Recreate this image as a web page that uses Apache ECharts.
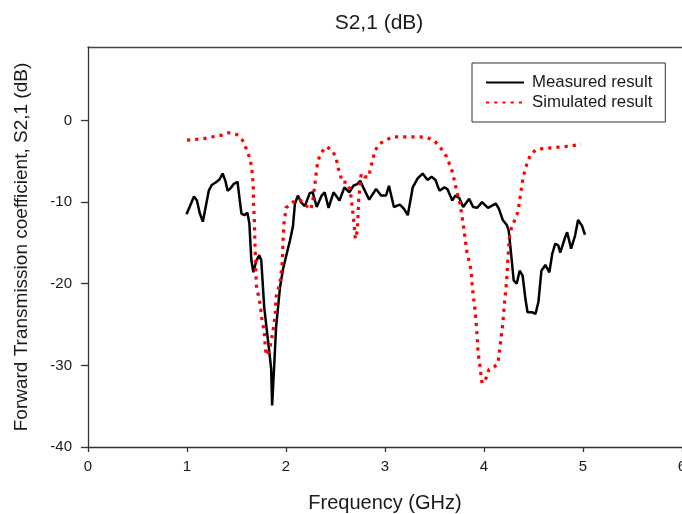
<!DOCTYPE html>
<html>
<head>
<meta charset="utf-8">
<script src="https://cdn.jsdelivr.net/npm/echarts@6/dist/echarts.min.js"></script>
<style>html,body{margin:0;padding:0;background:#fff}#c{width:682px;height:514px}</style>
</head>
<body>
<div id="c"></div>
<script>
const xTicks = [0, 1, 2, 3, 4, 5, 6];
const yTicks = [-40, -30, -20, -10, 0];

const measuredFreq = [0.995,1.04,1.07,1.10,1.13,1.16,1.19,1.22,1.25,1.29,1.33,1.36,1.39,1.41,1.44,1.47,1.51,1.53,1.55,1.58,1.61,1.63,1.65,1.67,1.70,1.73,1.75,1.78,1.83,1.85,1.86,1.88,1.90,1.94,1.97,2.00,2.04,2.07,2.09,2.12,2.15,2.19,2.24,2.27,2.31,2.36,2.39,2.43,2.48,2.54,2.59,2.64,2.68,2.72,2.75,2.78,2.84,2.91,2.96,3.01,3.04,3.09,3.15,3.19,3.23,3.28,3.30,3.33,3.38,3.43,3.47,3.51,3.55,3.60,3.63,3.68,3.71,3.75,3.79,3.85,3.89,3.93,3.98,4.04,4.12,4.15,4.19,4.23,4.25,4.28,4.30,4.33,4.36,4.39,4.42,4.44,4.49,4.52,4.55,4.58,4.62,4.66,4.69,4.72,4.75,4.77,4.82,4.84,4.88,4.92,4.95,4.99,5.02];
const measuredDb = [-11.5,-10.2,-9.3,-9.8,-11.4,-12.4,-10.5,-8.6,-7.9,-7.6,-7.2,-6.5,-7.5,-8.6,-8.3,-7.8,-7.5,-9.5,-11.4,-11.6,-11.3,-12.6,-17.1,-18.6,-17.2,-16.5,-17.1,-22.9,-28.2,-30.4,-34.9,-30.2,-25.3,-20.4,-18.2,-16.7,-14.7,-13.0,-10.2,-9.2,-10.0,-10.5,-8.9,-8.8,-10.6,-9.2,-8.8,-10.7,-8.8,-9.8,-8.2,-8.8,-8.0,-7.8,-7.4,-8.2,-9.7,-8.4,-9.2,-9.2,-8.0,-10.6,-10.3,-10.8,-11.6,-8.2,-8.0,-7.1,-6.5,-7.3,-6.9,-7.3,-8.6,-8.2,-8.4,-9.8,-9.2,-9.5,-10.6,-9.6,-10.6,-10.7,-10.0,-10.7,-10.2,-10.8,-12.2,-12.8,-13.5,-17.1,-19.6,-20.0,-18.4,-19.0,-22.0,-23.5,-23.5,-23.7,-22.2,-18.4,-17.7,-18.6,-16.3,-15.1,-15.3,-16.2,-14.3,-13.7,-15.7,-14.1,-12.2,-12.9,-14.0];

const simulatedFreq = [1.0,1.10,1.18,1.26,1.35,1.42,1.50,1.56,1.60,1.63,1.65,1.66,1.67,1.672,1.68,1.685,1.69,1.695,1.70,1.72,1.74,1.76,1.78,1.785,1.79,1.80,1.815,1.83,1.85,1.87,1.89,1.90,1.92,1.94,1.95,1.96,1.965,1.97,1.98,1.99,2.00,2.07,2.14,2.20,2.25,2.27,2.28,2.29,2.30,2.31,2.32,2.35,2.41,2.47,2.51,2.52,2.55,2.56,2.62,2.65,2.66,2.67,2.68,2.69,2.70,2.72,2.725,2.73,2.735,2.76,2.79,2.84,2.85,2.88,2.89,2.94,3.01,3.08,3.16,3.25,3.35,3.43,3.50,3.57,3.62,3.65,3.68,3.70,3.72,3.74,3.76,3.78,3.81,3.82,3.83,3.85,3.87,3.88,3.89,3.90,3.91,3.92,3.93,3.935,3.94,3.95,3.96,3.97,3.98,4.02,4.05,4.10,4.14,4.15,4.16,4.17,4.18,4.19,4.20,4.21,4.22,4.23,4.24,4.25,4.26,4.28,4.30,4.34,4.36,4.37,4.39,4.40,4.42,4.44,4.48,4.54,4.64,4.72,4.81,4.89,4.98];
const simulatedDb = [-2.4,-2.3,-2.2,-2.0,-1.8,-1.5,-1.7,-2.4,-3.5,-4.5,-5.5,-6.5,-8.4,-10.2,-12.2,-14.3,-16.5,-18.4,-20.2,-21.4,-22.6,-24.7,-25.7,-26.7,-27.7,-28.8,-29.0,-28.2,-27.1,-25.7,-23.9,-21.6,-20.8,-19.8,-18.8,-17.7,-16.5,-14.7,-12.6,-11.7,-10.7,-10.0,-9.7,-10.4,-10.9,-10.0,-8.9,-8.0,-7.0,-6.0,-5.1,-4.0,-3.2,-3.7,-4.7,-5.7,-6.5,-7.5,-7.6,-8.6,-9.7,-10.7,-11.8,-13.1,-14.5,-13.5,-12.4,-11.0,-9.6,-6.5,-6.9,-6.9,-5.9,-4.8,-3.9,-2.9,-2.4,-2.0,-2.0,-2.0,-2.0,-2.1,-2.5,-3.5,-4.4,-5.3,-6.3,-7.3,-8.4,-9.4,-10.3,-11.9,-14.5,-15.5,-16.3,-17.3,-18.4,-20.0,-21.4,-22.2,-23.3,-24.8,-26.3,-27.3,-28.4,-29.3,-30.2,-31.2,-32.2,-31.6,-30.5,-30.2,-29.8,-28.9,-27.9,-26.9,-25.9,-24.9,-23.4,-21.8,-20.8,-19.3,-17.2,-15.4,-13.9,-13.1,-12.9,-11.3,-9.9,-8.9,-7.4,-6.7,-5.9,-5.0,-4.0,-3.5,-3.4,-3.3,-3.2,-3.1,-2.9];

const seriesNames = ['Measured result', 'Simulated result'];
const titleText = 'S2,1 (dB)';
const xName = 'Frequency (GHz)';
const yName = 'Forward Transmission coefficient, S2,1 (dB)';

const zip = (a, b) => a.map((v, i) => [v, b[i]]);
const FONT = '"Liberation Sans", Arial, sans-serif';
const TXT = '#1a1a1a';
const AX = '#333';

const chart = echarts.init(document.getElementById('c'), null, {renderer: 'canvas'});
chart.setOption({
  animation: false,
  backgroundColor: '#fff',
  textStyle: {fontFamily: FONT, color: TXT},
  title: {
    text: titleText, left: 374, top: 8, textAlign: 'center',
    textStyle: {fontFamily: FONT, fontSize: 21, fontWeight: 'normal', color: TXT}
  },
  grid: {left: 88, top: 47, right: 0, bottom: 67, containLabel: false, outerBoundsMode: 'none'},
  legend: {
    orient: 'vertical', left: 472, top: 63,
    borderColor: '#333', borderWidth: 1, padding: [11, 13, 11, 13],
    itemWidth: 38, itemHeight: 14, itemGap: 3,
    itemStyle: {opacity: 0},
    textStyle: {fontFamily: FONT, fontSize: 16.8, color: TXT, padding: [0, 0, 0, 3]},
    data: seriesNames
  },
  xAxis: [{
    type: 'value', min: xTicks[0], max: xTicks[xTicks.length - 1], interval: 1,
    name: xName, nameLocation: 'middle', nameGap: 46,
    nameTextStyle: {fontFamily: FONT, fontSize: 20, color: TXT},
    axisLine: {show: true, onZero: false, lineStyle: {color: AX, width: 1.3}},
    axisTick: {show: true, length: 5, lineStyle: {color: AX, width: 1.3}},
    axisLabel: {fontFamily: FONT, fontSize: 15, color: TXT, margin: 12},
    splitLine: {show: false}
  }, {
    type: 'value', position: 'top', min: 0, max: 6,
    axisLine: {show: true, onZero: false, lineStyle: {color: '#444', width: 1.3}},
    axisTick: {show: false}, axisLabel: {show: false}, splitLine: {show: false}
  }],
  yAxis: {
    type: 'value', min: -40, max: 9, interval: 10,
    name: yName, nameLocation: 'middle', nameGap: 57, nameRotate: 90,
    nameTextStyle: {fontFamily: FONT, fontSize: 19, color: TXT},
    axisLine: {show: true, onZero: false, lineStyle: {color: AX, width: 1.3}},
    axisTick: {show: true, length: 7, customValues: yTicks, lineStyle: {color: AX, width: 1.3}},
    axisLabel: {fontFamily: FONT, fontSize: 15, color: TXT, margin: 16, customValues: yTicks},
    splitLine: {show: false}
  },
  series: [{
    name: seriesNames[0], type: 'line', xAxisIndex: 0,
    data: zip(measuredFreq, measuredDb),
    symbol: 'none', smooth: false,
    lineStyle: {color: '#000', width: 2.5},
    itemStyle: {color: '#000'}
  }, {
    name: seriesNames[1], type: 'line', xAxisIndex: 0,
    data: zip(simulatedFreq, simulatedDb),
    symbol: 'none', smooth: false,
    lineStyle: {color: '#ff0000', width: 3.2, type: [3.2, 5], cap: 'butt'},
    itemStyle: {color: '#ff0000'}
  }]
});
</script>
</body>
</html>
